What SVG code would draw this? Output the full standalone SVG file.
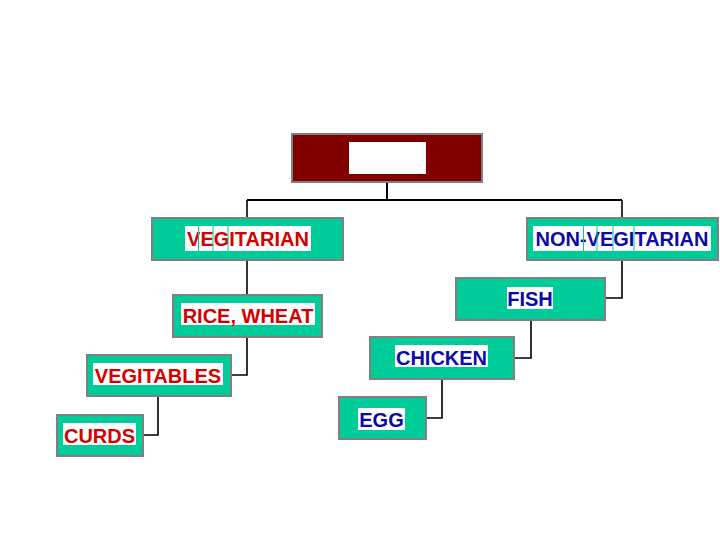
<svg xmlns="http://www.w3.org/2000/svg" width="720" height="540" viewBox="0 0 720 540">
<style>
.box{fill:#00CC99;stroke:#808080;stroke-width:2}
.bg{fill:#ffffff}
.t{font-family:"Liberation Sans",Arial,sans-serif;font-weight:bold;font-size:20px;text-anchor:middle}
.red{fill:#d40000}
.blue{fill:#0a0aa8}
.sep{stroke:#00CC99;stroke-width:1}
.c{fill:none;stroke:#000000;stroke-width:1.6}
</style>
<rect width="720" height="540" fill="#ffffff"/>
<g id="connectors">
<path class="c" d="M387,183 V200" style="stroke-width:2"/>
<path class="c" d="M247,200 H622" style="stroke-width:2"/>
<path class="c" d="M247,200 V218"/>
<path class="c" d="M622,200 V218"/>
<path class="c" d="M247,260 V295"/>
<path class="c" d="M247,337 V375 H231"/>
<path class="c" d="M158,396 V435 H143"/>
<path class="c" d="M622,260 V298 H605"/>
<path class="c" d="M531,320 V358 H514"/>
<path class="c" d="M442,379 V418 H426"/>
</g>
<g id="root">
<rect x="292" y="134" width="190" height="48" fill="#800000" stroke="#808080" stroke-width="2"/>
<rect x="349" y="142" width="77" height="32" fill="#ffffff"/>
</g>
<g id="vegitarian">
<rect class="box" x="152" y="218" width="191" height="42"/>
<rect class="bg" x="185" y="226" width="126" height="25"/>
<text class="t red" x="248" y="246">VEGITARIAN</text>
<line class="sep" x1="198.5" y1="226" x2="198.5" y2="251"/>
<line class="sep" x1="213" y1="226" x2="213" y2="251"/>
<line class="sep" x1="228" y1="226" x2="228" y2="251"/>
</g>
<g id="non-vegitarian">
<rect class="box" x="527" y="218" width="191" height="42"/>
<rect class="bg" x="533" y="226" width="178" height="25"/>
<text class="t blue" x="622" y="246">NON-VEGITARIAN</text>
<line class="sep" x1="583.5" y1="226" x2="583.5" y2="251"/>
<line class="sep" x1="597" y1="226" x2="597" y2="251"/>
<line class="sep" x1="613" y1="226" x2="613" y2="251"/>
<line class="sep" x1="634" y1="226" x2="634" y2="251"/>
</g>
<g id="rice-wheat">
<rect class="box" x="173" y="295" width="149" height="42"/>
<rect class="bg" x="181" y="303" width="134" height="22"/>
<text class="t red" x="248" y="323">RICE, WHEAT</text>
</g>
<g id="vegitables">
<rect class="box" x="87" y="355" width="144" height="41"/>
<rect class="bg" x="93" y="363" width="130" height="22"/>
<text class="t red" x="158" y="383">VEGITABLES</text>
</g>
<g id="curds">
<rect class="box" x="57" y="415" width="86" height="41"/>
<rect class="bg" x="63" y="423" width="73" height="22"/>
<text class="t red" x="99.5" y="443">CURDS</text>
</g>
<g id="fish">
<rect class="box" x="456" y="278" width="149" height="42"/>
<rect class="bg" x="507" y="287" width="46" height="22"/>
<text class="t blue" x="530" y="306">FISH</text>
</g>
<g id="chicken">
<rect class="box" x="370" y="337" width="144" height="42"/>
<rect class="bg" x="395" y="345" width="93" height="22"/>
<text class="t blue" x="441.5" y="365">CHICKEN</text>
</g>
<g id="egg">
<rect class="box" x="339" y="397" width="87" height="42"/>
<rect class="bg" x="358" y="408" width="47" height="22"/>
<text class="t blue" x="381.5" y="427">EGG</text>
</g>
</svg>
